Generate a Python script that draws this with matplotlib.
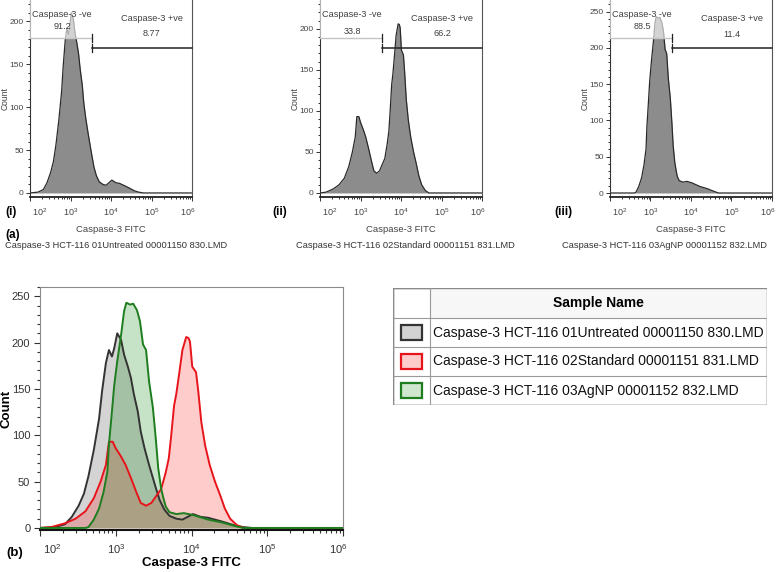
import numpy as np
import matplotlib
matplotlib.use('Agg')
import matplotlib.pyplot as plt
import matplotlib.transforms as mtransforms
from matplotlib.patches import Rectangle
from matplotlib.ticker import MultipleLocator

plt.rcParams['font.family'] = ['Liberation Sans', 'DejaVu Sans']

W, H = 783, 572

# sample names (legend rows and captions under the top panels)
sample_names = ['Caspase-3 HCT-116 01Untreated 00001150 830.LMD',
                'Caspase-3 HCT-116 02Standard 00001151 831.LMD',
                'Caspase-3 HCT-116 03AgNP 00001152 832.LMD']
panel_tags = ['(i)', '(ii)', '(iii)']
neg_pct = ['91.2', '33.8', '88.5']
pos_pct = ['8.77', '66.2', '11.4']
gate_split = 3.53   # log10 of the -ve / +ve boundary

# histograms: log10(FITC) and count
untreated_log = [2.00, 2.20, 2.33, 2.42, 2.51, 2.58, 2.64, 2.71, 2.78, 2.82, 2.87, 2.91,
                 2.95, 2.98, 3.02, 3.07, 3.11, 3.16, 3.20, 3.24, 3.29, 3.33, 3.38, 3.44,
                 3.49, 3.53, 3.58, 3.64, 3.71, 3.80, 3.88, 3.95, 4.02, 4.12, 4.22, 4.40,
                 4.58, 4.68, 4.80, 6.00]
untreated_count = [0, 1, 4, 12, 24, 37, 56, 84, 118, 148, 178, 192,
                   185, 194, 210, 203, 187, 174, 162, 144, 126, 104, 86, 68,
                   54, 43, 30, 20, 13, 10, 9, 12, 15, 12, 11, 7,
                   2.5, 1, 0, 0]

standard_log = [2.00, 2.15, 2.33, 2.47, 2.60, 2.71, 2.80, 2.87, 2.91, 2.96, 3.00, 3.07,
                3.13, 3.20, 3.27, 3.33, 3.40, 3.47, 3.53, 3.60, 3.66, 3.70, 3.73, 3.77,
                3.80, 3.84, 3.88, 3.93, 3.96, 3.98, 4.01, 4.06, 4.09, 4.13, 4.18, 4.24,
                4.31, 4.38, 4.44, 4.51, 4.60, 4.69, 6.00]
standard_count = [0, 1, 5, 10, 18, 32, 50, 68, 93, 93, 86, 77,
                  68, 54, 39, 27, 24, 27, 34, 42, 60, 75, 98, 132,
                  145, 168, 192, 206, 205, 201, 174, 168, 147, 114, 89, 68,
                  50, 35, 21, 10, 3, 0, 0]

agnp_log = [2.00, 2.60, 2.64, 2.71, 2.78, 2.84, 2.89, 2.91, 2.95, 2.98, 3.02, 3.07,
            3.11, 3.14, 3.19, 3.23, 3.28, 3.32, 3.36, 3.40, 3.44, 3.49, 3.53, 3.56,
            3.60, 3.63, 3.66, 3.71, 3.80, 3.90, 4.02, 4.22, 4.40, 4.58, 4.68, 6.00]
agnp_count = [0, 0, 1, 9, 21, 39, 61, 90, 126, 154, 180, 208,
              234, 243, 241, 242, 235, 223, 198, 192, 158, 130, 95, 65,
              42, 32, 23, 17, 15, 16, 14, 9, 6, 2, 0, 0]

logs = [untreated_log, standard_log, agnp_log]
counts = [untreated_count, standard_count, agnp_count]

line_colors = ['#333333', '#e8141b', '#1e7d1e']
fill_colors = ['#9a9a9a', '#ff0000', '#008000']
fill_alpha = [0.42, 0.2, 0.22]
swatch_fill = ['#d2d2d2', '#ffcccc', '#cfe7cf']


def px_box(l, t, r, b):
    return [l / W, 1 - b / H, (r - l) / W, (b - t) / H]


def fig_text(px, py, s, **kw):
    fig.text(px / W, 1 - py / H, s, **kw)


def decade_labels(ax, size, color, pad, first_dx, last_dx):
    ax.set_xticks([1e2, 1e3, 1e4, 1e5, 1e6])
    ax.set_xticklabels([r'$\mathregular{10^{%d}}$' % d for d in range(2, 7)])
    ax.tick_params(axis='x', labelsize=size, labelcolor=color, pad=pad)
    lbls = ax.get_xticklabels()
    lbls[0].set_transform(lbls[0].get_transform() +
                          mtransforms.ScaledTranslation(first_dx / 100, 0, fig.dpi_scale_trans))
    lbls[-1].set_transform(lbls[-1].get_transform() +
                           mtransforms.ScaledTranslation(last_dx / 100, 0, fig.dpi_scale_trans))


fig = plt.figure(figsize=(W / 100, H / 100), dpi=100)

# ---- (a) single histograms with gates ----
top_boxes = [(30, 0, 192, 197), (320, 0, 482, 197), (610, 0, 772, 197)]
top_ylims = [(-4.7, 225), (-4.9, 235), (-5.5, 266)]
top_ymax_tick = [200, 200, 250]
neg_num_y = [0.863, 0.838, 0.863]
pos_num_y = [0.832, 0.832, 0.827]
neg_y, pos_y = 0.807, 0.756

for i in range(3):
    ax = fig.add_axes(px_box(*top_boxes[i]))
    x = 10 ** np.array(logs[i])
    y = np.array(counts[i])
    ax.fill_between(x, y, 0, color='#8c8c8c', lw=0, zorder=2)
    ax.plot(x, y, color='#2a2a2a', lw=0.9, zorder=2.5)
    ax.set_xscale('log')
    ax.set_xlim(1e2, 1e6)
    ax.set_ylim(*top_ylims[i])
    ax.set_yticks(np.arange(0, top_ymax_tick[i] + 1, 50))
    ax.yaxis.set_minor_locator(MultipleLocator(10))
    ax.tick_params(which='both', direction='out', colors='#333333', width=0.7)
    ax.tick_params(which='major', length=3)
    ax.tick_params(which='minor', length=1.5)
    ax.tick_params(axis='y', labelsize=6, labelcolor='#444444', pad=1.5)
    decade_labels(ax, 6.5, '#444444', 4, 10, -4)
    ax.spines['top'].set_visible(False)
    ax.spines['left'].set_color('#333333')
    ax.spines['right'].set_color('#555555')
    ax.spines['bottom'].set_color('#222222')
    ax.spines['bottom'].set_linewidth(1.3)
    ax.set_xlabel('Caspase-3 FITC', fontsize=6.8, color='#444444')
    ax.xaxis.set_label_coords(0.5, -0.14)
    ax.set_ylabel('Count', fontsize=6.2, color='#444444')
    ax.yaxis.set_label_coords(-0.128, 0.5)

    tr = ax.get_xaxis_transform()
    lo, split = 1e2, 10 ** gate_split
    ax.add_patch(Rectangle((lo, neg_y), split - lo, 1 - neg_y, transform=tr,
                           facecolor='white', alpha=0.62, lw=0, zorder=3))
    ax.plot([lo, split], [neg_y, neg_y], transform=tr, color='#c4c4c4', lw=1.0, zorder=4)
    ax.plot([split, split], [neg_y - 0.02, neg_y + 0.02], transform=tr, color='#222222', lw=0.9, zorder=4)
    ax.plot([split * 1.03, 1e6], [pos_y, pos_y], transform=tr, color='#222222', lw=1.1, zorder=4,
            clip_on=False)
    ax.plot([split * 1.03, split * 1.03], [pos_y - 0.022, pos_y + 0.022], transform=tr,
            color='#222222', lw=0.9, zorder=4)
    ax.text(0.198, 0.924, 'Caspase-3 -ve', transform=ax.transAxes, fontsize=6.6,
            color='#404040', ha='center', va='center', zorder=5)
    ax.text(0.2, neg_num_y[i], neg_pct[i], transform=ax.transAxes, fontsize=6.6,
            color='#404040', ha='center', va='center', zorder=5)
    ax.text(0.753, 0.905, 'Caspase-3 +ve', transform=ax.transAxes, fontsize=6.6,
            color='#404040', ha='center', va='center', zorder=5)
    ax.text(0.753, pos_num_y[i], pos_pct[i], transform=ax.transAxes, fontsize=6.6,
            color='#404040', ha='center', va='center', zorder=5)

tag_x = [11, 280, 563]
cap_x = [5, 296, 562]
for i in range(3):
    fig_text(tag_x[i], 212, panel_tags[i], fontsize=8.5, fontweight='bold', ha='center', va='center')
    fig_text(cap_x[i], 245, sample_names[i], fontsize=6.7, color='#333333', ha='left', va='center')
fig_text(13, 235, '(a)', fontsize=8.5, fontweight='bold', ha='center', va='center')

# ---- (b) overlay ----
axb = fig.add_axes(px_box(40, 287, 343, 530))
for k in range(3):
    axb.fill_between(10 ** np.array(logs[k]), counts[k], 0, color=fill_colors[k],
                     alpha=fill_alpha[k], lw=0, zorder=2)
for k in [0, 1, 2]:
    axb.plot(10 ** np.array(logs[k]), counts[k], color=line_colors[k], lw=1.4, zorder=3)
axb.set_xscale('log')
axb.set_xlim(1e2, 1e6)
axb.set_ylim(-2.2, 260)
axb.set_yticks(np.arange(0, 251, 50))
axb.yaxis.set_minor_locator(MultipleLocator(10))
axb.tick_params(which='both', direction='out', colors='#333333', width=0.8)
axb.tick_params(which='major', length=4)
axb.tick_params(which='minor', length=2)
axb.tick_params(axis='y', labelsize=8, labelcolor='#333333', pad=3)
decade_labels(axb, 8, '#333333', 5, 12, -5)
for s in ['top', 'right', 'left']:
    axb.spines[s].set_color('#8a8a8a')
axb.spines['bottom'].set_color('#111111')
axb.spines['bottom'].set_linewidth(1.5)
axb.set_xlabel('Caspase-3 FITC', fontsize=9.5, fontweight='bold')
axb.xaxis.set_label_coords(0.5, -0.112)
axb.set_ylabel('Count', fontsize=9.5, fontweight='bold')
axb.yaxis.set_label_coords(-0.09, 0.5)
fig_text(15, 553, '(b)', fontsize=9.5, fontweight='bold', ha='center', va='center')

# ---- legend table ----
axt = fig.add_axes(px_box(393, 288, 767, 405))
axt.set_xlim(0, 374)
axt.set_ylim(117, 0)
axt.axis('off')
axt.add_patch(Rectangle((0, 0), 374, 117, facecolor='white', edgecolor='#8a8a8a', lw=1.0))
axt.add_patch(Rectangle((37, 0), 337, 30, facecolor='#f7f7f7', edgecolor='none'))
for yy in [30, 59, 88]:
    axt.plot([0, 374], [yy, yy], color='#9a9a9a', lw=0.8)
axt.plot([37, 37], [0, 117], color='#9a9a9a', lw=0.8)
axt.add_patch(Rectangle((0, 0), 374, 117, facecolor='none', edgecolor='#8a8a8a', lw=1.0))
axt.text((37 + 374) / 2, 15, 'Sample Name', fontsize=10, fontweight='bold', ha='center', va='center')
for k in range(3):
    yc = 44.5 + 29 * k
    axt.add_patch(Rectangle((8, yc - 7.5), 21, 15, facecolor=swatch_fill[k],
                            edgecolor=line_colors[k], lw=1.6))
    axt.text(40, yc, sample_names[k], fontsize=10, ha='left', va='center', color='#111111')

fig.savefig('out.png', dpi=100)
